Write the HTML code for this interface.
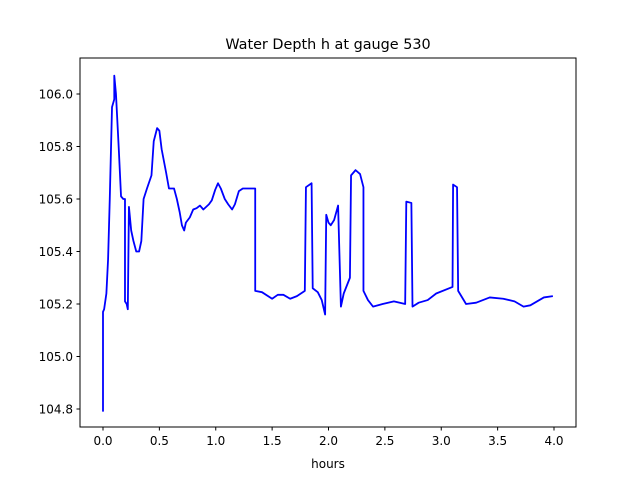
<!DOCTYPE html>
<html><head><meta charset="utf-8"><style>
body{margin:0;background:#fff}
svg text{font-family:"DejaVu Sans","Liberation Sans",sans-serif;}
</style></head><body>
<svg width="640" height="480" viewBox="0 0 640 480">
<rect width="640" height="480" fill="#fff"/>
<text x="328" y="49" text-anchor="middle" font-size="14.4">Water Depth h at gauge 530</text>
<g id="xt"></g>
<g id="yt"></g>
<text x="328" y="468" text-anchor="middle" font-size="12">hours</text>
<polyline id="line" fill="none" stroke="#0000ff" stroke-width="1.8" stroke-linejoin="round"/>
<rect x="80" y="58" width="496" height="369" fill="none" stroke="#000" stroke-width="1"/>
</svg>
<script>
const hours=[0,0,0.01,0.03,0.045,0.06,0.08,0.10,0.10,0.115,0.14,0.16,0.18,0.195,0.195,0.21,0.22,0.23,0.25,0.27,0.295,0.32,0.34,0.36,0.39,0.43,0.45,0.48,0.50,0.52,0.56,0.585,0.63,0.655,0.68,0.70,0.72,0.735,0.77,0.80,0.83,0.86,0.89,0.915,0.94,0.965,0.995,1.02,1.045,1.08,1.11,1.145,1.17,1.205,1.24,1.35,1.35,1.41,1.50,1.55,1.60,1.66,1.72,1.79,1.80,1.85,1.86,1.905,1.94,1.97,1.98,2.0,2.02,2.05,2.085,2.11,2.135,2.19,2.20,2.24,2.28,2.31,2.31,2.35,2.395,2.48,2.58,2.68,2.69,2.735,2.745,2.80,2.88,2.955,3.10,3.105,3.14,3.15,3.22,3.31,3.43,3.55,3.65,3.73,3.79,3.91,3.99];
const depth=[104.79,105.17,105.18,105.24,105.37,105.6,105.95,105.98,106.07,106.0,105.79,105.61,105.6,105.6,105.21,105.2,105.18,105.57,105.48,105.44,105.40,105.40,105.44,105.6,105.64,105.69,105.82,105.87,105.86,105.79,105.7,105.64,105.64,105.6,105.55,105.50,105.48,105.51,105.53,105.56,105.565,105.575,105.56,105.57,105.58,105.595,105.635,105.66,105.64,105.60,105.58,105.56,105.58,105.63,105.64,105.64,105.25,105.245,105.22,105.235,105.235,105.22,105.23,105.25,105.645,105.66,105.26,105.245,105.215,105.16,105.54,105.51,105.50,105.52,105.575,105.19,105.24,105.30,105.69,105.71,105.695,105.645,105.25,105.215,105.19,105.20,105.21,105.20,105.59,105.585,105.19,105.205,105.215,105.24,105.265,105.655,105.645,105.25,105.20,105.205,105.225,105.22,105.21,105.19,105.195,105.225,105.23];
const xTicks=[0,0.5,1,1.5,2,2.5,3,3.5,4];
const xTickLabels=["0.0","0.5","1.0","1.5","2.0","2.5","3.0","3.5","4.0"];
const yTicks=[104.8,105.0,105.2,105.4,105.6,105.8,106.0];
const yTickLabels=["104.8","105.0","105.2","105.4","105.6","105.8","106.0"];
const X=v=>103+v*112.75, Y=v=>409-(v-104.8)*262.5;
const NS="http://www.w3.org/2000/svg";
const xt=document.getElementById('xt'), yt=document.getElementById('yt');
xTicks.forEach((t,i)=>{
 const l=document.createElementNS(NS,'line');
 
 
 l.setAttribute('x1',X(t));l.setAttribute('x2',X(t));l.setAttribute('y1',427);l.setAttribute('y2',430.5);l.setAttribute('stroke','#000');xt.appendChild(l);
 const tx=document.createElementNS(NS,'text');
 
 
 tx.setAttribute('x',X(t));tx.setAttribute('y',445);tx.setAttribute('text-anchor','middle');tx.setAttribute('font-size','12');tx.textContent=xTickLabels[i];xt.appendChild(tx);
});
yTicks.forEach((t,i)=>{
 const l=document.createElementNS(NS,'line');
 
 
 l.setAttribute('x1',76.5);l.setAttribute('x2',80);l.setAttribute('y1',Y(t));l.setAttribute('y2',Y(t));l.setAttribute('stroke','#000');yt.appendChild(l);
 const tx=document.createElementNS(NS,'text');
 
 
 tx.setAttribute('x',73);tx.setAttribute('y',Y(t)+4.5);tx.setAttribute('text-anchor','end');tx.setAttribute('font-size','12');tx.textContent=yTickLabels[i];yt.appendChild(tx);
});
document.getElementById('line').setAttribute('points',hours.map((h,i)=>X(h)+','+Y(depth[i])).join(' '));
</script>
</body></html>
